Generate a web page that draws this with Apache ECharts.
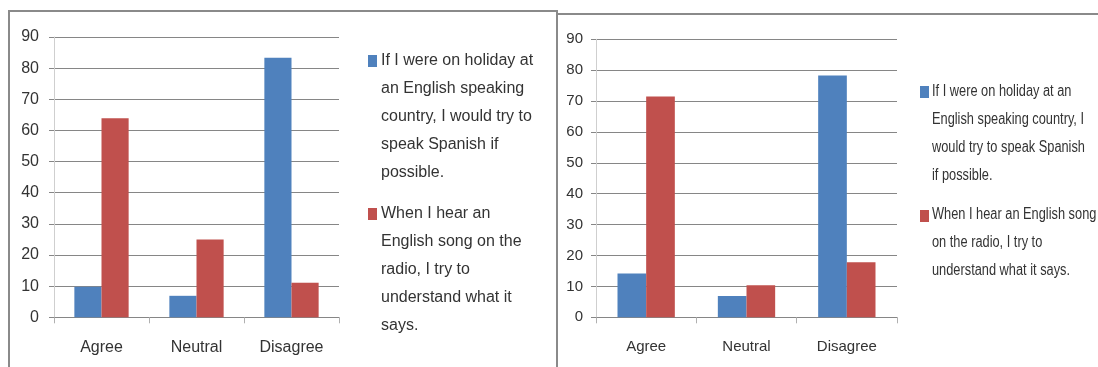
<!DOCTYPE html>
<html>
<head>
<meta charset="utf-8">
<script src="https://cdn.jsdelivr.net/npm/echarts@6/dist/echarts.min.js"></script>
<style>
  html, body { margin: 0; padding: 0; background: #fff; }
  #chart { width: 1098px; height: 367px; }
</style>
</head>
<body>
<div id="chart"></div>
<script>
// Survey responses (%), two survey groups shown side by side
const categories = ['Agree', 'Neutral', 'Disagree'];
const seriesNames = [
  'If I were on holiday at an English speaking country, I would try to speak Spanish if possible.',
  'When I hear an English song on the radio, I try to understand what it says.'
];
const leftHoliday = [9.8, 6.9, 83.3];
const leftSong = [63.9, 25.0, 11.1];
const rightHoliday = [14.2, 6.9, 78.3];
const rightSong = [71.5, 10.4, 17.8];
const yMin = 0, yMax = 90, yStep = 10;

// Legend wording, wrapped per panel
const leftLegendLines = [
  ['If I were on holiday at', 'an English speaking', 'country, I would try to', 'speak Spanish if', 'possible.'],
  ['When I hear an', 'English song on the', 'radio, I try to', 'understand what it', 'says.']
];
const rightLegendLines = [
  ['If I were on holiday at an', 'English speaking country, I', 'would try to speak Spanish', 'if possible.'],
  ['When I hear an English song', 'on the radio, I try to', 'understand what it says.']
];

const BLUE = '#4F81BD', RED = '#C0504D';
const TEXT = '#333333';
const GRID = '#868686';
const FONT = "'Liberation Sans', Arial, sans-serif";

function yAxis(gridIndex, size, margin) {
  return {
    type: 'value', gridIndex, min: yMin, max: yMax, interval: yStep,
    axisLine: { show: true, lineStyle: { color: '#cfcfcf', width: 1 } },
    axisTick: { show: true, length: 5, lineStyle: { color: GRID } },
    axisLabel: { color: TEXT, fontSize: size, fontFamily: FONT, margin },
    splitLine: { show: true, lineStyle: { color: GRID, width: 1 } }
  };
}
function xAxis(gridIndex, size, margin) {
  return {
    type: 'category', gridIndex, data: categories,
    axisLine: { show: true, lineStyle: { color: GRID, width: 1 } },
    axisTick: { show: true, length: 6, lineStyle: { color: '#b0b0b0' } },
    axisLabel: { color: TEXT, fontSize: size, fontFamily: FONT, margin }
  };
}
function bar(name, data, idx, color) {
  return {
    type: 'bar', name, data, xAxisIndex: idx, yAxisIndex: idx,
    barGap: '0%', barCategoryGap: '42.86%',
    itemStyle: { color }, emphasis: { disabled: true }
  };
}
// Legend entries: colour square beside a wrapped caption; squeeze narrows the caption horizontally
function legendBlock(lines, x, yTops, squareYs, squareX, squeeze) {
  const els = [];
  [BLUE, RED].forEach((c, i) => {
    els.push({ type: 'rect', shape: { x: squareX, y: squareYs[i], width: 9, height: 12 }, style: { fill: c }, silent: true });
    els.push({ type: 'text', x, y: yTops[i], scaleX: squeeze, scaleY: 1, silent: true,
      style: { text: lines[i].join('\n'), fill: TEXT, fontSize: 16, fontFamily: FONT, lineHeight: 28, verticalAlign: 'top', align: 'left' } });
  });
  return els;
}

const chart = echarts.init(document.getElementById('chart'), null, { renderer: 'canvas' });
chart.setOption({
  backgroundColor: '#ffffff',
  animation: false,
  grid: [
    { left: 54, top: 37, width: 285, height: 280.3 },
    { left: 596, top: 39.3, width: 301, height: 278 }
  ],
  xAxis: [xAxis(0, 16, 22), xAxis(1, 15, 22)],
  yAxis: [yAxis(0, 16, 15), yAxis(1, 15, 13)],
  series: [
    bar(seriesNames[0], leftHoliday, 0, BLUE),
    bar(seriesNames[1], leftSong, 0, RED),
    bar(seriesNames[0], rightHoliday, 1, BLUE),
    bar(seriesNames[1], rightSong, 1, RED)
  ],
  graphic: [
    // panel frames
    { type: 'polyline', shape: { points: [[9, 380], [9, 11], [557, 11], [557, 380]] }, style: { stroke: '#8a8a8a', lineWidth: 2, fill: null }, silent: true },
    { type: 'line', shape: { x1: 557, y1: 14, x2: 1098, y2: 14 }, style: { stroke: '#8a8a8a', lineWidth: 2 }, silent: true },
    ...legendBlock(leftLegendLines, 381, [47, 200], [55, 208], 368, 1),
    ...legendBlock(rightLegendLines, 932, [78, 201], [86, 210], 920, 0.8)
  ]
});
</script>
</body>
</html>
